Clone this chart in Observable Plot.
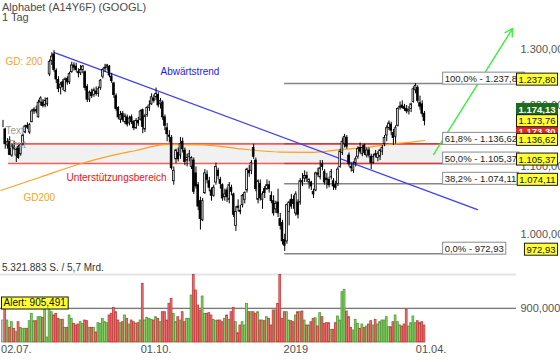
<!DOCTYPE html>
<html><head><meta charset="utf-8">
<script src="https://cdn.jsdelivr.net/npm/d3@7"></script>
<script src="https://cdn.jsdelivr.net/npm/@observablehq/plot@0.6"></script>
<style>
body{margin:0;background:#fff;}
#chart{position:relative;width:560px;height:362px;overflow:hidden;font-family:"Liberation Sans",Arial,sans-serif;background:#fff;}
#chart svg{position:absolute;left:0;top:0;}
.t{position:absolute;left:2px;color:#4a4a4a;font-size:11px;line-height:11px;white-space:nowrap;}
</style></head><body>
<div id="chart">
<div class="t" style="top:2px">Alphabet (A14Y6F) (GOOGL)</div>
<div class="t" style="top:12px">1 Tag</div>
<div class="t" style="top:263px;font-size:10px;line-height:10px;color:#333">5.321.883 S. / 5,7 Mrd.</div>
</div>
<script>
// Daily candles, trading days from 22.06.2018 (index 0) to 27.03.2019 (index 190)
const open = [
1169,1160,1134,1142,1118,1135,1118,1132,1120,1135,
1155,1166,1155,1172,1190,1192,1180,1205,1205,1200,
1202,1254,1278,1290,1260,1244,1230,1240,1225,1246,
1240,1258,1270,1268,1258,1256,1262,1258,1232,1210,
1222,1218,1224,1220,1230,1250,1264,1266,1268,1250,
1238,1216,1196,1176,1186,1172,1180,1170,1180,1172,
1162,1174,1176,1192,1160,1184,1196,1202,1212,1214,
1218,1202,1205,1180,1162,1150,1146,1078,1112,1122,
1118,1140,1126,1110,1116,1100,1110,1090,1072,1048,
1020,1060,1088,1078,1064,1056,1076,1094,1080,1072,
1054,1064,1050,1068,1058,1012,1040,1034,1042,1050,
1064,1094,1094,1130,1110,1050,1074,1050,1066,1066,
1072,1056,1048,1036,1046,1022,1016,992,990,1032,
1050,1050,1030,1046,1046,1078,1082,1086,1076,1076,
1062,1064,1090,1084,1104,1092,1082,1080,1084,1078,
1072,1074,1100,1122,1136,1146,1118,1100,1094,1106,
1116,1130,1120,1134,1118,1126,1116,1106,1120,1114,
1116,1124,1136,1150,1162,1168,1154,1148,1166,1196,
1200,1198,1194,1190,1194,1206,1226,1230,1204,1202,
1186];
const high = [
1175,1162,1145,1148,1135,1141,1130,1134,1137,1152,
1167,1171,1170,1193,1196,1199,1209,1215,1210,1213,
1213,1280,1293,1297,1264,1250,1240,1245,1248,1250,
1258,1276,1275,1274,1264,1270,1270,1260,1236,1225,
1228,1230,1232,1232,1245,1265,1272,1272,1270,1256,
1240,1220,1198,1190,1190,1186,1184,1182,1184,1175,
1178,1180,1192,1194,1185,1198,1208,1220,1218,1230,
1222,1212,1208,1184,1170,1158,1150,1100,1128,1130,
1147,1146,1130,1120,1126,1116,1114,1100,1076,1054,
1052,1096,1094,1084,1068,1072,1106,1098,1084,1074,
1066,1068,1076,1072,1060,1040,1050,1042,1058,1062,
1098,1102,1110,1136,1114,1080,1080,1062,1070,1080,
1078,1062,1056,1048,1066,1030,1020,1000,1044,1048,
1058,1056,1062,1050,1082,1090,1094,1092,1082,1078,
1066,1092,1098,1110,1110,1096,1090,1084,1096,1082,
1078,1100,1128,1146,1152,1150,1122,1106,1108,1116,
1132,1138,1134,1136,1130,1130,1120,1120,1126,1124,
1128,1134,1150,1166,1174,1172,1160,1166,1196,1206,
1208,1202,1200,1198,1204,1232,1237.8,1234,1216,1208,
1190];
const low = [
1163,1128,1128,1118,1115,1126,1107,1112,1117,1133,
1153,1160,1152,1171,1185,1186,1179,1199,1196,1196,
1198,1250,1270,1258,1238,1222,1218,1226,1222,1235,
1236,1256,1260,1258,1248,1252,1255,1225,1205,1205,
1212,1214,1216,1214,1226,1246,1258,1260,1248,1238,
1212,1190,1176,1170,1172,1168,1164,1166,1168,1158,
1160,1165,1174,1153,1155,1180,1190,1200,1204,1208,
1196,1194,1175,1158,1140,1138,1095,1072,1105,1108,
1112,1122,1102,1100,1108,1096,1058,1066,1034,1006,
1018,1058,1074,1062,1048,1054,1072,1080,1066,1048,
1048,1046,1044,1056,1024,1004,1032,1028,1038,1044,
1060,1084,1088,1112,1062,1044,1048,1036,1052,1064,
1060,1044,1026,1030,1024,1006,985,976,986,1012,
1036,1036,1026,1022,1042,1070,1076,1076,1066,1064,
1052,1062,1084,1080,1094,1072,1066,1068,1080,1064,
1064,1070,1098,1118,1130,1128,1100,1092,1090,1100,
1112,1120,1116,1118,1114,1114,1096,1104,1114,1108,
1110,1118,1132,1140,1158,1150,1134,1136,1164,1192,
1194,1190,1186,1184,1188,1204,1220,1204,1192,1180,
1166];
const close = [
1169,1136,1140,1119,1132,1129,1127,1114,1135,1150,
1165,1163,1167,1190,1193,1190,1205,1212,1199,1208,
1211,1276,1286,1262,1245,1228,1236,1232,1245,1240,
1255,1270,1266,1262,1256,1262,1268,1230,1210,1222,
1216,1226,1220,1228,1243,1262,1266,1270,1252,1242,
1218,1194,1180,1184,1176,1182,1168,1178,1172,1162,
1174,1170,1190,1164,1182,1196,1200,1214,1208,1220,
1200,1208,1180,1166,1152,1148,1098,1094,1126,1112,
1136,1128,1108,1114,1120,1114,1062,1070,1040,1022,
1048,1090,1080,1068,1056,1068,1100,1086,1074,1052,
1058,1054,1072,1062,1028,1032,1038,1032,1056,1060,
1096,1090,1106,1116,1066,1078,1052,1058,1060,1072,
1066,1048,1030,1044,1030,1012,990,984,1042,1046,
1040,1044,1058,1028,1078,1076,1086,1082,1080,1070,
1058,1090,1088,1098,1100,1076,1080,1072,1092,1070,
1068,1096,1124,1140,1148,1132,1104,1098,1104,1112,
1128,1124,1130,1122,1126,1118,1106,1116,1118,1120,
1126,1130,1146,1162,1170,1158,1146,1162,1194,1198,
1196,1194,1190,1192,1202,1228,1234,1208,1198,1186,
1174.13];
// daily volume in thousand shares
const volumeK = [
582,892,582,389,537,363,273,537,389,363,
363,363,564,760,564,564,670,670,654,892,
132,892,802,715,760,627,601,601,389,389,
715,627,495,450,476,537,495,582,564,389,
389,389,265,511,495,627,537,511,715,760,
918,802,582,511,537,715,627,476,582,537,
495,511,582,1554,582,654,627,601,582,670,
627,537,802,802,582,1024,1157,760,537,670,
582,802,537,627,627,1244,1790,1376,979,847,
1218,760,760,776,715,601,564,582,582,537,
627,715,601,802,918,537,246,450,537,450,
1024,802,802,802,760,802,582,582,564,670,
627,450,847,847,1024,1790,627,802,802,582,
564,537,715,802,802,821,582,450,450,537,
627,643,424,776,670,495,511,511,336,336,
511,688,582,1331,1395,821,670,389,318,601,
495,363,476,389,424,476,564,450,601,476,
537,582,582,670,405,405,537,715,537,450,
424,476,866,424,511,688,511,564,511,537,
450];

// 200-day average (index, value)
const gd200Index = [-1, 17, 35, 46, 60, 73, 90, 107, 125, 140, 151, 164, 176, 185, 190];
const gd200Value = [1064, 1084.5, 1105, 1115.4, 1126, 1135.5, 1135, 1128.5, 1123.5, 1123, 1127, 1131, 1136.6, 1139.8, 1142];

// Fibonacci retracement
const fibPct = ["100,0%", "61,8%", "50,0%", "38,2%", "0,0%"];
const fibValue = [1237.80, 1136.62, 1105.37, 1074.11, 972.93];
const fibFromIndex = 127, fibToIndex = 198.2;

// support zone
const zoneFromIndex = 2.5, zoneLow = 1105.37, zoneHigh = 1136.62;

// down trend line and target arrow (index, price)
const trendIndex = [23.2, 213.9], trendPrice = [1293.5, 1035.6];
const arrowIndex = [194.1, 229.7], arrowPrice = [1119.5, 1338];

// current quotes
const quoteLast = 1174.13, quoteYellow = 1173.76, quoteRed = 1173.30;

// annotations (index, price)
const notes = {
  gd200Label: {text: "GD: 200", i: 1.1, p: 1277},
  trend: {text: "Abwärtstrend", i: 71, p: 1259},
  zone: {text: "Unterstützungsbereich", i: 28.6, p: 1083.7},
  gd200: {text: "GD200", i: 9.2, p: 1053.4},
  text1: {text: "Text", i: 1.1, p: 1158.2},
  text2: {text: "Text", i: 2.0, p: 1135.5}
};

const priceTicks = [1000, 1100, 1200, 1300];
const dateTickIndex = [6, 69, 132, 193];
const dateTickLabel = ["02.07.", "01.10.", "2019", "01.04."];
const volumeTop = 1800000, volumeGrid = 900000, alertLevel = 905491;

// ---- tables ----
const candles = close.map((c, i) => ({i, o: open[i], h: high[i], l: low[i], c, v: volumeK[i] * 1000}));
const up = candles.filter(d => d.c > d.o), down = candles.filter(d => d.c < d.o), flat = candles.filter(d => d.c === d.o);
const gd200 = gd200Index.map((i, k) => ({i, v: gd200Value[k]}));
const fibs = fibValue.map((v, k) => ({pct: fibPct[k], value: v, from: fibFromIndex, to: fibToIndex}));
const zoneLines = [zoneLow, zoneHigh].map(v => ({value: v, from: zoneFromIndex, to: fibToIndex}));
const zone = [{from: zoneFromIndex, to: fibToIndex, low: zoneLow, high: zoneHigh}];
const trend = trendIndex.map((i, k) => ({i, p: trendPrice[k]}));
const arrow = [{i1: arrowIndex[0], p1: arrowPrice[0], i2: arrowIndex[1], p2: arrowPrice[1]}];
const dateTicks = dateTickIndex.map((i, k) => ({i, label: dateTickLabel[k]}));

const de2 = v => d3.format(",.2f")(v).replace(/,/g, "#").replace(".", ",").replace(/#/g, ".");
const FONT = '"Liberation Sans", Arial, sans-serif';
const xScale = {axis: null, domain: [-1.127, 231.5], range: [0, 516]};
const halfW = 0.38;
const box = k => () => k;   // per-label box style key, read after rendering

const price = Plot.plot({
  width: 560, height: 362, marginLeft: 0, marginRight: 40, marginTop: 0, marginBottom: 0,
  style: {background: "transparent", fontFamily: FONT},
  x: xScale,
  y: {axis: null, type: "log", domain: [970.4, 1297.2], range: [255, 50]},
  marks: [
    Plot.rect(zone, {x1: "from", x2: "to", y1: "low", y2: "high", fill: "#f1f1f1"}),
    Plot.ruleY(fibs, {y: "value", x1: "from", x2: "to", stroke: "#858585", strokeWidth: 1.5}),
    Plot.ruleY(zoneLines, {y: "value", x1: "from", x2: "to", stroke: "#ff1a1a", strokeOpacity: 0.72, strokeWidth: 1.6}),
    Plot.line(gd200, {x: "i", y: "v", stroke: "#f9a21e", strokeWidth: 1.2, curve: "monotone-x"}),
    Plot.line(trend, {x: "i", y: "p", stroke: "#3c3cff", strokeWidth: 1.3}),
    Plot.ruleX(candles, {x: "i", y1: "l", y2: "h", stroke: "#000", strokeWidth: 1}),
    Plot.rect(down, {x1: d => d.i - halfW, x2: d => d.i + halfW, y1: "o", y2: "c", fill: "#000", stroke: "#000", strokeWidth: 0.8}),
    Plot.rect(up.concat(flat), {x1: d => d.i - halfW, x2: d => d.i + halfW, y1: "o", y2: "c", fill: "#fff", stroke: "#000", strokeWidth: 0.8}),
    Plot.arrow(arrow, {x1: "i1", y1: "p1", x2: "i2", y2: "p2", stroke: "#3cf03c", strokeWidth: 1.4, headLength: 9}),
    Plot.text([notes.gd200Label, notes.gd200], {x: "i", y: "p", text: "text", textAnchor: "start", fontSize: 10, fill: "#f9a21e"}),
    Plot.text([notes.trend], {x: "i", y: "p", text: "text", textAnchor: "start", fontSize: 10, fill: "#2222ee"}),
    Plot.text([notes.zone], {x: "i", y: "p", text: "text", textAnchor: "start", fontSize: 10, fill: "#ee1111"}),
    Plot.text([notes.text1, notes.text2], {x: "i", y: "p", text: "text", textAnchor: "start", fontSize: 10, fill: "#9a9a9a"}),
    Plot.text(fibs, {x: "to", y: "value", text: d => `${d.pct} - ${de2(d.value)}`, textAnchor: "start", dx: 2, dy: -5, fontSize: 9.5, fill: "#222", ariaLabel: box("box-white")}),
    Plot.text(priceTicks, {y: d => d, text: d => de2(d), frameAnchor: "right", textAnchor: "start", fontSize: 11, fill: "#555"}),
    Plot.text([quoteRed], {y: d => d, text: d => de2(d), frameAnchor: "right", textAnchor: "end", dx: 35, dy: 11, fontSize: 9.5, fontWeight: "bold", fill: "#fff", ariaLabel: box("box-red")}),
    Plot.text([quoteLast], {y: d => d, text: d => de2(d), frameAnchor: "right", textAnchor: "end", dx: 35, dy: -11, fontSize: 9.5, fontWeight: "bold", fill: "#fff", ariaLabel: box("box-green")}),
    Plot.text([quoteYellow], {y: d => d, text: d => de2(d), frameAnchor: "right", textAnchor: "end", dx: 35, dy: 0, fontSize: 9.5, fill: "#111", ariaLabel: box("box-yellow")}),
    Plot.text(fibs, {y: "value", text: d => de2(d.value), frameAnchor: "right", textAnchor: "end", dx: 35, dy: -4, fontSize: 9.5, fill: "#111", ariaLabel: box("box-yellow")})
  ]
});

const vol = Plot.plot({
  width: 560, height: 362, marginLeft: 0, marginRight: 44, marginTop: 274, marginBottom: 10,
  style: {background: "transparent", fontFamily: FONT},
  x: xScale,
  y: {axis: null, domain: [0, volumeTop], range: [342, 274]},
  marks: [
    Plot.ruleY([volumeTop], {stroke: "#e4e4e4", strokeWidth: 2}),
    Plot.ruleY([volumeGrid], {stroke: "#dcdcdc", strokeWidth: 1.5}),
    Plot.ruleY([alertLevel], {stroke: "#7a7a7a", strokeWidth: 1.2}),
    Plot.rect(up, {x1: d => d.i - 0.5, x2: d => d.i + 0.5, y1: () => 0, y2: "v", fill: "#8ed26d", stroke: "#4c9c33", strokeWidth: 0.8, insetLeft: 0.2, insetRight: 0.2}),
    Plot.rect(down, {x1: d => d.i - 0.5, x2: d => d.i + 0.5, y1: () => 0, y2: "v", fill: "#e77a7a", stroke: "#c43838", strokeWidth: 0.8, insetLeft: 0.2, insetRight: 0.2}),
    Plot.rect(flat, {x1: d => d.i - 0.5, x2: d => d.i + 0.5, y1: () => 0, y2: "v", fill: "#c4c4c4", stroke: "#8a8a8a", strokeWidth: 0.8, insetLeft: 0.2, insetRight: 0.2}),
    Plot.text([volumeGrid], {y: d => d, text: d => d3.format(",")(d), frameAnchor: "right", textAnchor: "start", dx: 4, fontSize: 11, fill: "#555"}),
    Plot.text([alertLevel], {y: d => d, text: d => "Alert: " + d3.format(",")(d), frameAnchor: "left", textAnchor: "start", dx: 3, dy: -5, fontSize: 10, fill: "#111", ariaLabel: box("box-yellow")}),
    Plot.text(dateTicks, {x: "i", text: "label", frameAnchor: "bottom", fontSize: 11, fill: "#505050"})
  ]
});

const chart = document.getElementById("chart");
chart.appendChild(price);
chart.appendChild(vol);

function addBoxes(svg) {
  const styles = {
    "box-white": ["#ffffff", "#8a8a8a"],
    "box-yellow": ["#ffff33", "#1a1a1a"],
    "box-green": ["#1d6b1d", "#1d6b1d"],
    "box-red": ["#e32626", "#e32626"]
  };
  Array.from(svg.querySelectorAll("text[aria-label]")).forEach(t => {
    const st = styles[t.getAttribute("aria-label")];
    if (!st) return;
    const b = t.getBBox();
    const r = document.createElementNS("http://www.w3.org/2000/svg", "rect");
    r.setAttribute("x", b.x - 2);
    r.setAttribute("y", b.y - 0.5);
    r.setAttribute("width", b.width + 4);
    r.setAttribute("height", b.height + 1);
    r.setAttribute("fill", st[0]);
    r.setAttribute("stroke", st[1]);
    r.setAttribute("stroke-width", 1);
    if (t.hasAttribute("transform")) r.setAttribute("transform", t.getAttribute("transform"));
    t.parentNode.insertBefore(r, t);
  });
}
addBoxes(price);
addBoxes(vol);
</script>
</body></html>
